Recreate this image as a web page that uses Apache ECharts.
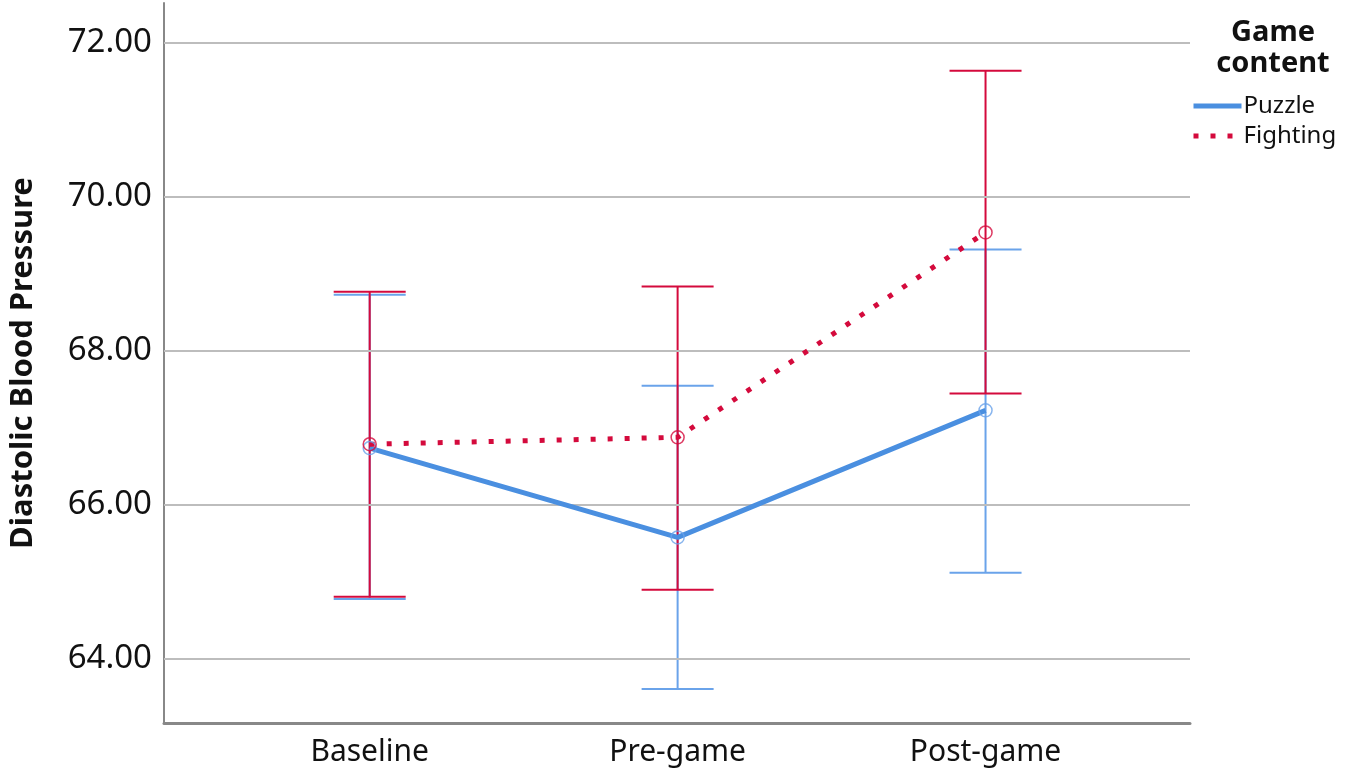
<!DOCTYPE html>
<html><head><meta charset="utf-8">
<script src="https://cdn.jsdelivr.net/npm/echarts@6/dist/echarts.min.js"></script>
<style>html,body{margin:0;padding:0;background:#fff}#c{width:1350px;height:781px}</style>
</head><body><div id="c"></div>
<script>
const categories = ['Baseline', 'Pre-game', 'Post-game'];
const puzzleMean = [66.74, 65.58, 67.23];
const puzzleLow = [64.78, 63.61, 65.12];
const puzzleHigh = [68.73, 67.55, 69.32];
const fightingMean = [66.79, 66.88, 69.54];
const fightingLow = [64.81, 64.90, 67.45];
const fightingHigh = [68.77, 68.84, 71.64];
const yTicks = [64, 66, 68, 70, 72];

const BLUE = '#4a8fe0', BLUE_L = '#6aa3ea', RED = '#d40a3c';
const FONT = 'Noto Sans';

function errSeries(name, low, high, color) {
  return {
    type: 'custom', name: name, z: name.indexOf('Fighting') >= 0 ? 4 : 3,
    data: categories.map((c, i) => [i, low[i], high[i]]),
    renderItem: function (params, api) {
      const x = api.value(0);
      const lo = api.coord([x, api.value(1)]);
      const hi = api.coord([x, api.value(2)]);
      const hw = 36;
      const st = { stroke: color, lineWidth: 2 };
      return { type: 'group', children: [
        { type: 'line', shape: { x1: lo[0], y1: lo[1], x2: hi[0], y2: hi[1] }, style: st },
        { type: 'line', shape: { x1: lo[0] - hw, y1: lo[1], x2: lo[0] + hw, y2: lo[1] }, style: st },
        { type: 'line', shape: { x1: hi[0] - hw, y1: hi[1], x2: hi[0] + hw, y2: hi[1] }, style: st }
      ]};
    },
    silent: true
  };
}

const chart = echarts.init(document.getElementById('c'), null, { renderer: 'canvas' });
chart.setOption({
  animation: false,
  textStyle: { fontFamily: FONT },
  grid: { left: 162, right: 160, top: 3, bottom: 58 },
  title: {
    text: 'Game\ncontent', left: 1268, top: 12, textAlign: 'center',
    textStyle: { fontFamily: FONT, fontWeight: 'bold', fontSize: 29, lineHeight: 31, color: '#111' }
  },
  legend: {
    data: ['Puzzle', 'Fighting'], orient: 'vertical', left: 1186, top: 89,
    itemWidth: 48, itemHeight: 14, itemGap: 6,
    itemStyle: { opacity: 0 },
    lineStyle: { width: 5 },
    textStyle: { fontFamily: FONT, fontSize: 24, color: '#111', padding: [0, 0, 0, -3] }
  },
  xAxis: {
    type: 'value', min: -0.668, max: 2.664,
    axisLine: { show: true, onZero: false, lineStyle: { color: '#888', width: 3 } },
    axisTick: { show: false },
    splitLine: { show: false },
    axisLabel: {
      customValues: [0, 1, 2], formatter: v => categories[Math.round(v)] || '',
      fontFamily: FONT, fontSize: 30, color: '#111', margin: 14
    }
  },
  yAxis: {
    type: 'value', min: 63.17, max: 72.52,
    name: 'Diastolic Blood Pressure', nameLocation: 'middle', nameGap: 125,
    nameTextStyle: { fontFamily: FONT, fontWeight: 'bold', fontSize: 31, color: '#111' },
    axisLine: { show: true, onZero: false, lineStyle: { color: '#888', width: 2 } },
    axisTick: { show: false, customValues: yTicks },
    splitLine: { show: false },
    axisLabel: {
      customValues: yTicks, formatter: v => v.toFixed(2),
      fontFamily: FONT, fontSize: 33, color: '#111', margin: 12
    }
  },
  series: [
    {
      type: 'line', name: 'grid', silent: true, data: [], z: 1,
      markLine: {
        silent: true, symbol: 'none', label: { show: false },
        lineStyle: { color: '#bdbdbd', width: 2, type: 'solid' },
        data: yTicks.map(v => ({ yAxis: v }))
      }
    },
    errSeries('Puzzle-err', puzzleLow, puzzleHigh, BLUE_L),
    errSeries('Fighting-err', fightingLow, fightingHigh, RED),
    {
      type: 'line', name: 'Puzzle', data: puzzleMean.map((v, i) => [i, v]),
      symbol: 'none', z: 5,
      lineStyle: { color: BLUE, width: 5 }, itemStyle: { color: BLUE }
    },
    {
      type: 'line', name: 'Fighting', data: fightingMean.map((v, i) => [i, v]),
      symbol: 'none', z: 6,
      lineStyle: { color: RED, width: 5, type: [5, 12], cap: 'butt' }, itemStyle: { color: RED }
    },
    {
      type: 'scatter', name: 'Puzzle-pt', data: puzzleMean.map((v, i) => [i, v]),
      symbol: 'circle', symbolSize: 13, z: 7,
      itemStyle: { color: 'rgba(255,255,255,0)', borderColor: BLUE_L, borderWidth: 1.5 }
    },
    {
      type: 'scatter', name: 'Fighting-pt', data: fightingMean.map((v, i) => [i, v]),
      symbol: 'circle', symbolSize: 13, z: 8,
      itemStyle: { color: 'rgba(255,255,255,0)', borderColor: RED, borderWidth: 1.5 }
    }
  ]
});
</script></body></html>
